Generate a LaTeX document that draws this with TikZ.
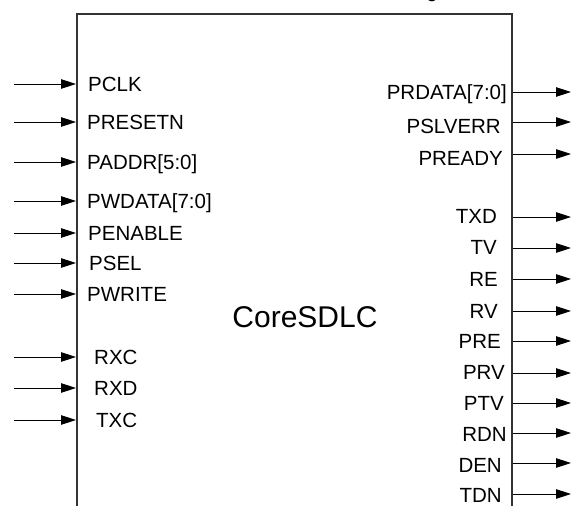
\documentclass[tikz,border=0pt]{standalone}
\usepackage{fontspec}
\setmainfont{Liberation Sans}
\usetikzlibrary{arrows.meta,positioning}
\tikzset{
  sd diagram/.style={x=1pt,y=-1pt,line cap=butt},
  sd block/.style={draw=black!80,line width=1.3pt},
  sd pin/.style={-{Triangle[length=15pt,width=9.5pt]},draw=black,line width=0.9pt},
  sd label/.style={font=\fontsize{20.5}{24}\selectfont,inner sep=0pt,
    text height=14.7pt,text depth=0pt},
  sd title/.style={font=\fontsize{30}{36}\selectfont,inner sep=0pt}
}

\begin{document}
\begin{tikzpicture}[sd diagram]
\useasboundingbox (0,0) rectangle (571,506);
% cut-off text above the block
\node[sd label,text height=,anchor=base] (cut) at (432,-2.5) {g};
% block outline, open at the bottom
\coordinate (bl) at (77,520);
\coordinate (tl) at (77,14);
\coordinate (tr) at (512,14);
\coordinate (br) at (512,520);
\draw[sd block] (bl) -- (tl) -- (tr) -- (br);
\node[sd title] (core) at (305,317) {CoreSDLC};
% inputs
\foreach \y/\dx/\name [count=\i] in {84/88/PCLK, 122/87/PRESETN,
    162/87/{PADDR[5:0]}, 201/87/{PWDATA[7:0]}, 233/88/PENABLE,
    263/89/PSEL, 294/87/PWRITE, 357/94/RXC, 388/94/RXD, 420/96/TXC}{
  \coordinate (in\i) at (14,\y);
  \coordinate (pin\i) at (76,\y);
  \draw[sd pin] (in\i) -- (pin\i);
  \node[sd label,anchor=west] (inlbl\i) at (\dx,\y) {\name};
}
% outputs
\foreach \y/\ly/\ex/\name [count=\i] in {92/92/507/{PRDATA[7:0]},
    122/126.5/501/PSLVERR, 154/158/503/PREADY, 217/216.5/497/TXD,
    248/247.5/497/TV, 279/279.5/498/RE, 311/311/498/RV, 341/341/501/PRE,
    373/372/505/PRV, 403/403.5/504/PTV, 433/434.5/507/RDN,
    463/465/502/DEN, 494/495.5/502/TDN}{
  \coordinate (pout\i) at (513,\y);
  \coordinate (out\i) at (571,\y);
  \draw[sd pin] (pout\i) -- (out\i);
  \node[sd label,anchor=east] (outlbl\i) at (\ex,\ly) {\name};
}
\end{tikzpicture}
\end{document}
